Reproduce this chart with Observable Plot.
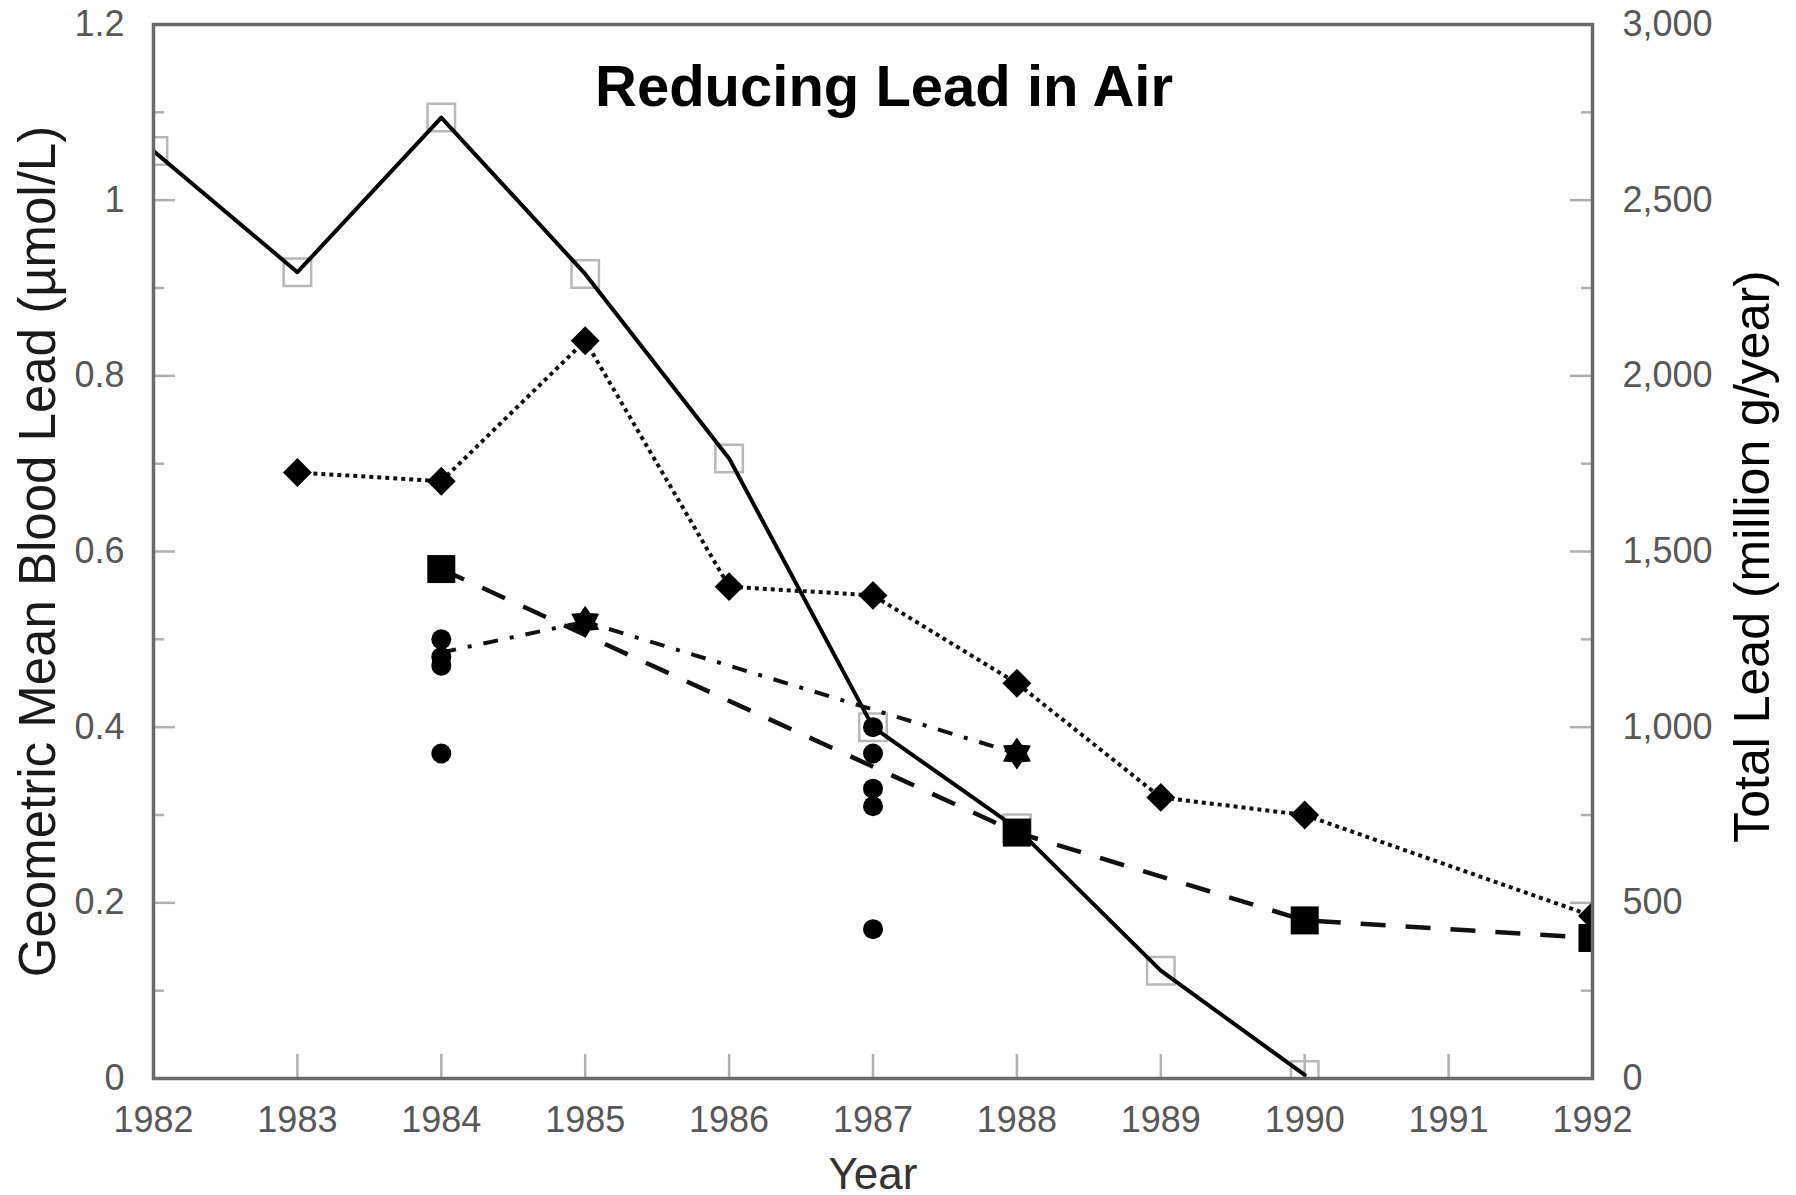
<!DOCTYPE html>
<html>
<head>
<meta charset="utf-8">
<script src="https://cdn.jsdelivr.net/npm/d3@7"></script>
<script src="https://cdn.jsdelivr.net/npm/@observablehq/plot@0.6"></script>
<style>
  html, body { margin: 0; padding: 0; background: #fff; }
  #chart svg { display: block; }
</style>
</head>
<body>
<div id="chart"></div>
<script>
// ---------- data ----------
const chartTitle = "Reducing Lead in Air";
const leftTitle = "Geometric Mean Blood Lead (µmol/L)";
const rightTitle = "Total Lead (million g/year)";
const xTitle = "Year";

const years = [1982, 1983, 1984, 1985, 1986, 1987, 1988, 1989, 1990, 1991, 1992];

// Total lead emissions (right axis, million g/year) – solid line, open squares
const leadYears = [1982, 1983, 1984, 1985, 1986, 1987, 1988, 1989, 1990];
const totalLead = [2640, 2295, 2735, 2290, 1765, 1000, 712, 307, 10];

// Blood lead series (left axis, µmol/L)
const diamondYears = [1983, 1984, 1985, 1986, 1987, 1988, 1989, 1990, 1992];
const diamondValues = [0.69, 0.68, 0.84, 0.56, 0.55, 0.45, 0.32, 0.30, 0.185];

const squareYears = [1984, 1988, 1990, 1992];
const squareValues = [0.58, 0.28, 0.18, 0.16];

const starYears = [1984, 1985, 1988];
const starValues = [0.485, 0.52, 0.37];
const starMarked = [false, true, true];

const dotYears = [1984, 1984, 1984, 1984, 1987, 1987, 1987, 1987, 1987];
const dotValues = [0.50, 0.48, 0.47, 0.37, 0.40, 0.37, 0.33, 0.31, 0.17];

// axes
const leftDomain = [0, 1.2];
const rightDomain = [0, 3000];
const leftTicks = [0, 0.2, 0.4, 0.6, 0.8, 1.0, 1.2];
const leftTickLabels = ["0", "0.2", "0.4", "0.6", "0.8", "1", "1.2"];
const leftMinorTicks = [0.1, 0.3, 0.5, 0.7, 0.9, 1.1];
const rightTicks = [0, 500, 1000, 1500, 2000, 2500, 3000];
const rightTickLabels = ["0", "500", "1,000", "1,500", "2,000", "2,500", "3,000"];
const rightMinorTicks = [250, 750, 1250, 1750, 2250, 2750];

// ---------- build ----------
const W = 1796, H = 1195;
const mL = 153, mR = 204, mT = 24, mB = 117;
const plotW = W - mL - mR, plotH = H - mT - mB;
const toLeft = v => v * leftDomain[1] / rightDomain[1];

const lead = leadYears.map((y, i) => ({year: y, v: toLeft(totalLead[i])}));
const diamonds = diamondYears.map((y, i) => ({year: y, v: diamondValues[i]}));
const squares = squareYears.map((y, i) => ({year: y, v: squareValues[i]}));
const stars = starYears.map((y, i) => ({year: y, v: starValues[i], m: starMarked[i]}));
const dots = dotYears.map((y, i) => ({year: y, v: dotValues[i]}));

const hexagram = {
  draw(context, size) {
    const R = Math.sqrt(size / Math.PI) * 1.15, r0 = R * 0.62;
    for (let i = 0; i < 12; i++) {
      const a = -Math.PI / 2 + i * Math.PI / 6;
      const rr = i % 2 === 0 ? R : r0;
      const px = rr * Math.cos(a), py = rr * Math.sin(a);
      if (i === 0) context.moveTo(px, py); else context.lineTo(px, py);
    }
    context.closePath();
  }
};

const tickFont = "'Liberation Sans Narrow', 'Arial Narrow', 'Liberation Sans', Arial, sans-serif";
const textFont = "'Liberation Sans', Arial, Helvetica, sans-serif";
const tickGray = "#b0b0b0";
const labelGray = "#585858";

const chart = Plot.plot({
  width: W,
  height: H,
  marginLeft: mL,
  marginRight: mR,
  marginTop: mT,
  marginBottom: mB,
  style: {background: "#fff", fontFamily: textFont, overflow: "visible"},
  x: {domain: [1982, 1992], axis: null},
  y: {domain: leftDomain, axis: null},
  marks: [
    // inward ticks
    Plot.tickY(leftTicks, {y: d => d, stroke: tickGray, strokeWidth: 2.5, insetRight: plotW - 22}),
    Plot.tickY(leftMinorTicks, {y: d => d, stroke: tickGray, strokeWidth: 2.5, insetRight: plotW - 11}),
    Plot.tickY(rightTicks, {y: d => toLeft(d), stroke: tickGray, strokeWidth: 2.5, insetLeft: plotW - 22}),
    Plot.tickY(rightMinorTicks, {y: d => toLeft(d), stroke: tickGray, strokeWidth: 2.5, insetLeft: plotW - 11}),
    Plot.tickX(years, {x: d => d, stroke: tickGray, strokeWidth: 2.5, insetTop: plotH - 24}),

    // axes labels
    Plot.axisY(leftTicks, {
      anchor: "left", tickSize: 0, tickPadding: 29, label: null,
      tickFormat: d => leftTickLabels[Math.round(d / 0.2)],
      fontSize: 36, fontFamily: tickFont, fill: labelGray
    }),
    Plot.axisY(rightTicks.map(toLeft), {
      anchor: "right", tickSize: 0, tickPadding: 30, label: null,
      tickFormat: d => rightTickLabels[Math.round(d / 0.2)],
      fontSize: 36, fontFamily: tickFont, fill: labelGray
    }),
    Plot.axisX(years, {
      anchor: "bottom", tickSize: 0, tickPadding: 28, label: null,
      tickFormat: d => String(d),
      fontSize: 36, fontFamily: tickFont, fill: labelGray
    }),

    // total lead (right axis)
    Plot.dot(lead, {x: "year", y: "v", symbol: "square", r: 15.5, fill: "none", stroke: "#b8b8b8", strokeWidth: 2.5, clip: true}),
    Plot.line(lead, {x: "year", y: "v", stroke: "#000", strokeWidth: 4, clip: true}),

    // blood lead lines
    Plot.line(diamonds, {x: "year", y: "v", stroke: "#111", strokeWidth: 4, strokeDasharray: "4,4", strokeLinecap: "butt", clip: true}),
    Plot.line(squares, {x: "year", y: "v", stroke: "#111", strokeWidth: 4.5, strokeDasharray: "25,20", strokeLinecap: "butt", clip: true}),
    Plot.line(stars, {x: "year", y: "v", stroke: "#111", strokeWidth: 4, strokeDasharray: "15,12,4,12", strokeLinecap: "butt", clip: true}),

    // markers
    Plot.dot(dots, {x: "year", y: "v", r: 10, fill: "#000"}),
    Plot.dot(diamonds, {x: "year", y: "v", symbol: "diamond2", r: 13, fill: "#000", clip: true}),
    Plot.dot(squares, {x: "year", y: "v", symbol: "square", r: 15.8, fill: "#000", clip: true}),
    Plot.dot(stars.filter(d => d.m), {x: "year", y: "v", symbol: hexagram, r: 14, fill: "#000"}),

    Plot.frame({stroke: "#6a6a6a", strokeWidth: 3.5}),

    // titles
    Plot.text([chartTitle], {text: d => d, frameAnchor: "top", dx: 11, dy: 81, lineAnchor: "bottom",
      fontSize: 58, fontWeight: "bold", fontFamily: textFont, fill: "#000"}),
    Plot.text([leftTitle], {text: d => d, frameAnchor: "left", dx: -115, rotate: -90, lineAnchor: "middle",
      textAnchor: "middle", fontSize: 51, fontFamily: textFont, fill: "#1a1a1a"}),
    Plot.text([rightTitle], {text: d => d, frameAnchor: "right", dx: 160, dy: 5, rotate: -90, lineAnchor: "middle",
      textAnchor: "middle", fontSize: 50, fontFamily: textFont, fill: "#000"}),
    Plot.text([xTitle], {text: d => d, frameAnchor: "bottom", dx: 0, dy: 96, lineAnchor: "middle",
      textAnchor: "middle", fontSize: 44, fontFamily: textFont, fill: "#333"})
  ]
});

document.getElementById("chart").appendChild(chart);
</script>
</body>
</html>
